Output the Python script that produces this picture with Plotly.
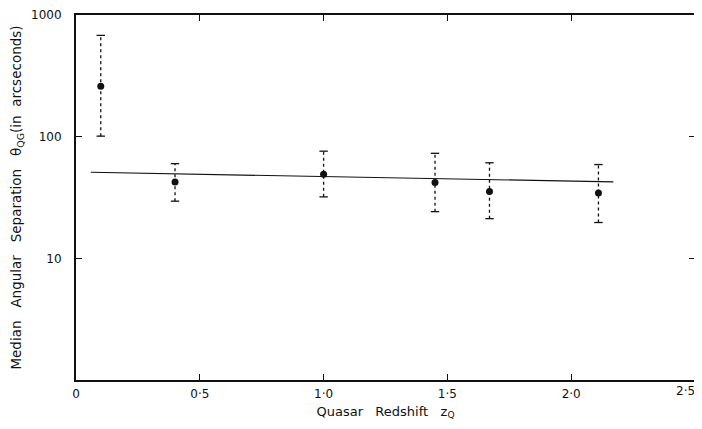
import plotly.graph_objects as go

# Data
z_q = [0.10, 0.40, 1.00, 1.45, 1.67, 2.11]
theta_med = [260, 42.5, 49, 42, 35.5, 34.5]
theta_hi = [680, 60, 76, 73, 61, 59]
theta_lo = [101, 29.5, 32, 24.2, 21.2, 19.7]

fit_x = [0.06, 2.17]
fit_y = [51, 42.5]

x_ticks = [0, 0.5, 1.0, 1.5, 2.0, 2.5]
x_ticktext = ["0", "0·5", "1·0", "1·5", "2·0", "2·5"]
y_ticks = [10, 100, 1000]
y_ticktext = ["10", "100", "1000"]

ink = "#111111"
font_family = "DejaVu Sans"

fig = go.Figure()

# dashed vertical error segments
seg_x, seg_y = [], []
for x, lo, hi in zip(z_q, theta_lo, theta_hi):
    seg_x += [x, x, None]
    seg_y += [lo, hi, None]
fig.add_trace(go.Scatter(x=seg_x, y=seg_y, mode="lines",
                         line=dict(color=ink, width=1.3, dash="3px,3px"),
                         hoverinfo="skip", showlegend=False))

# caps
fig.add_trace(go.Scatter(x=z_q + z_q, y=theta_hi + theta_lo, mode="markers",
                         marker=dict(symbol="line-ew", size=6,
                                     line=dict(color=ink, width=1.3)),
                         hoverinfo="skip", showlegend=False))

# fit line
fig.add_trace(go.Scatter(x=fit_x, y=fit_y, mode="lines",
                         line=dict(color=ink, width=1.2),
                         showlegend=False))

# points
fig.add_trace(go.Scatter(x=z_q, y=theta_med, mode="markers",
                         marker=dict(symbol="circle", size=7, color=ink),
                         showlegend=False))

# page body has an 8px margin, so the figure is sized to fit inside the window
fig.update_layout(
    width=694, height=421,
    margin=dict(l=68, r=7, t=7, b=49),
    paper_bgcolor="white", plot_bgcolor="white",
    font=dict(family=font_family, size=12, color=ink),
)
fig.update_xaxes(
    range=[0, 2.5], tickvals=x_ticks, ticktext=x_ticktext,
    ticks="inside", ticklen=6, tickwidth=1, tickcolor=ink,
    ticklabelstandoff=2,
    showline=True, linecolor=ink, linewidth=2, mirror="allticks",
    showgrid=False, zeroline=False, automargin=False,
    title=dict(text="Quasar   Redshift   z<sub>Q</sub>", standoff=6,
               font=dict(size=13)),
)
fig.update_yaxes(
    type="log", range=[0, 3], tickvals=y_ticks, ticktext=y_ticktext,
    ticks="inside", ticklen=6, tickwidth=1, tickcolor=ink,
    ticklabelstandoff=10,
    showline=True, linecolor=ink, linewidth=2, mirror="allticks",
    showgrid=False, zeroline=False, automargin=False,
    title=dict(text="Median   Angular   Separation   θ<sub>QG</sub>(in  arcseconds)",
               standoff=6, font=dict(size=13.5)),
)

# last x tick label sits at the right edge (plotly drops it as overflowing)
fig.add_annotation(x=x_ticks[-1], xref="x", y=0, yref="paper",
                   text=x_ticktext[-1], showarrow=False,
                   xanchor="right", xshift=2, yanchor="top", yshift=-2,
                   font=dict(size=12, color=ink))

fig.write_html("out.html")
